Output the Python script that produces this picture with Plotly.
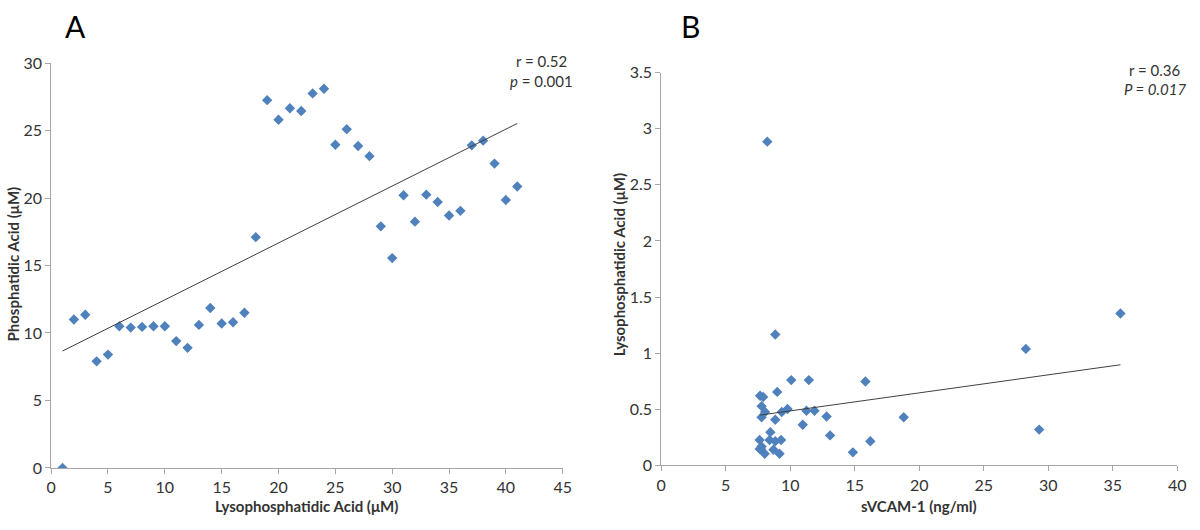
import numpy as np
import plotly.graph_objects as go

# Panel A: Lysophosphatidic Acid (x) vs Phosphatidic Acid (y)
lpa_a = list(range(1, 42))
pa_a = [0.0, 11.0, 11.35, 7.9, 8.4, 10.5, 10.4, 10.45, 10.5, 10.5,
        9.4, 8.9, 10.6, 11.85, 10.7, 10.8, 11.5, 17.1, 27.25, 25.8,
        26.65, 26.45, 27.75, 28.1, 23.95, 25.1, 23.85, 23.1, 17.9, 15.55,
        20.2, 18.25, 20.25, 19.7, 18.7, 19.05, 23.9, 24.25, 22.55, 19.85,
        20.85]

# Panel B: sVCAM-1 (x) vs Lysophosphatidic Acid (y)
svcam_b = [8.22, 8.84, 35.6, 28.27, 29.3, 18.8, 15.83, 16.21, 14.86, 13.09,
           12.82, 11.88, 11.26, 11.44, 10.08, 10.97, 9.79, 9.34, 9.29, 9.17,
           8.99, 8.84, 8.84, 8.70, 8.46, 8.40, 8.05, 8.02, 7.78, 7.78,
           7.66, 7.90, 7.63, 7.78, 7.72, 7.63]
lpa_b = [2.885, 1.166, 1.354, 1.038, 0.319, 0.429, 0.748, 0.215, 0.116, 0.267,
         0.435, 0.487, 0.487, 0.760, 0.760, 0.362, 0.502, 0.476, 0.226, 0.104,
         0.655, 0.406, 0.215, 0.139, 0.296, 0.226, 0.476, 0.104, 0.528, 0.429,
         0.620, 0.609, 0.226, 0.168, 0.151, 0.145]

ticks_a_x = [0, 5, 10, 15, 20, 25, 30, 35, 40, 45]
ticks_a_y = [0, 5, 10, 15, 20, 25, 30]
ticks_b_x = [0, 5, 10, 15, 20, 25, 30, 35, 40]
ticks_b_y = [0, 0.5, 1, 1.5, 2, 2.5, 3, 3.5]

FONT = "Lato, 'Open Sans', sans-serif"
MARKER = dict(symbol="diamond", size=8, color="#4F81BD")
AXIS_COLOR = "#A6A6A6"
TEXT_COLOR = "#333333"


def fit_line(x, y):
    x = np.asarray(x, dtype=float)
    y = np.asarray(y, dtype=float)
    m, b = np.polyfit(x, y, 1)
    xs = np.array([x.min(), x.max()])
    return xs, m * xs + b


fig = go.Figure()

fig.add_trace(go.Scatter(x=lpa_a, y=pa_a, mode="markers", marker=MARKER,
                         xaxis="x", yaxis="y", showlegend=False))
xa, ya = fit_line(lpa_a, pa_a)
fig.add_trace(go.Scatter(x=xa, y=ya, mode="lines",
                         line=dict(color="#404040", width=1),
                         xaxis="x", yaxis="y", showlegend=False))

fig.add_trace(go.Scatter(x=svcam_b, y=lpa_b, mode="markers", marker=MARKER,
                         xaxis="x2", yaxis="y2", showlegend=False))
xb, yb = fit_line(svcam_b, lpa_b)
fig.add_trace(go.Scatter(x=xb, y=yb, mode="lines",
                         line=dict(color="#404040", width=1),
                         xaxis="x2", yaxis="y2", showlegend=False))

axis_common = dict(showline=True, linecolor=AXIS_COLOR, linewidth=1,
                   ticks="outside", ticklen=5, tickcolor=AXIS_COLOR,
                   showgrid=False, zeroline=False,
                   tickfont=dict(family=FONT, size=16, color=TEXT_COLOR))

fig.update_layout(
    width=1200, height=530,
    margin=dict(l=0, r=0, t=0, b=0),
    paper_bgcolor="white", plot_bgcolor="white",
    font=dict(family=FONT, color=TEXT_COLOR),
    xaxis=dict(domain=[46.7 / 1200, 564.3 / 1200], range=[0, 45],
               tickvals=ticks_a_x, anchor="y", **axis_common),
    yaxis=dict(domain=[1 - 475 / 530, 1 - 55 / 530], range=[0, 30],
               tickvals=ticks_a_y, anchor="x", **axis_common),
    xaxis2=dict(domain=[664 / 1200, 1186 / 1200], range=[0, 40],
                tickvals=ticks_b_x, anchor="y2", **axis_common),
    yaxis2=dict(domain=[1 - 472.3 / 530, 1 - 65 / 530], range=[0, 3.5],
                tickvals=ticks_b_y, anchor="x2", **axis_common),
)


def px_x(p):
    return p / 1200


def px_y(p):
    return 1 - p / 530


annots = [
    dict(text="A", x=px_x(71.7), y=px_y(17), font=dict(size=30, color="black")),
    dict(text="B", x=px_x(694), y=px_y(17), font=dict(size=30, color="black")),
    dict(text="r = 0.52", x=px_x(571), y=px_y(53.3), xanchor="right",
         font=dict(size=15)),
    dict(text="<i>p</i> = 0.001", x=px_x(577), y=px_y(73.3), xanchor="right",
         font=dict(size=15)),
    dict(text="r = 0.36", x=px_x(1191), y=px_y(62.7), xanchor="right",
         font=dict(size=15)),
    dict(text="<i>P = 0.017</i>", x=px_x(1197), y=px_y(81.7), xanchor="right",
         font=dict(size=15)),
    dict(text="<b>Lysophosphatidic Acid (μM)</b>", x=px_x(305.5), y=px_y(514),
         font=dict(size=15)),
    dict(text="<b>Phosphatidic Acid (μM)</b>", x=px_x(8), y=px_y(263),
         textangle=-90, font=dict(size=15)),
    dict(text="<b>sVCAM-1 (ng/ml)</b>", x=px_x(925), y=px_y(514),
         font=dict(size=15)),
    dict(text="<b>Lysophosphatidic Acid (μM)</b>", x=px_x(621), y=px_y(264),
         textangle=-90, font=dict(size=15)),
]
for a in annots:
    a.setdefault("xanchor", "center")
    a.update(xref="paper", yref="paper", yanchor="middle", showarrow=False)
    a["font"].setdefault("family", FONT)
    a["font"].setdefault("color", TEXT_COLOR)
    fig.add_annotation(**a)

fig.write_html(
    "out.html",
    config={"displayModeBar": False},
    post_script="document.body.style.margin='0';document.body.style.overflow='hidden';",
)
